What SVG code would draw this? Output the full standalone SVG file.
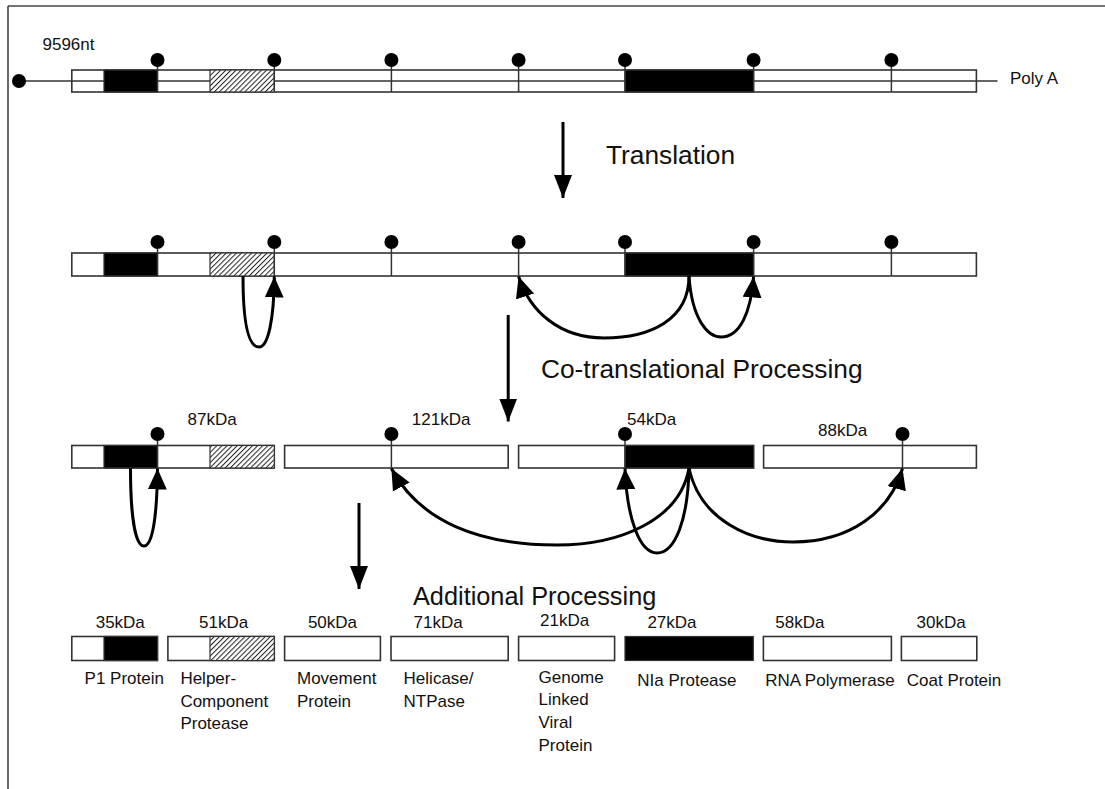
<svg xmlns="http://www.w3.org/2000/svg" width="1105" height="789" viewBox="0 0 1105 789">
<defs>
<pattern id="hatch" patternUnits="userSpaceOnUse" width="3.6" height="3.6" patternTransform="rotate(45)">
<rect width="3.6" height="3.6" fill="#fff"/>
<line x1="0.5" y1="0" x2="0.5" y2="3.6" stroke="#222" stroke-width="1"/>
</pattern>
<marker id="ah" markerUnits="userSpaceOnUse" markerWidth="22" markerHeight="20" refX="21" refY="9.5" orient="auto">
<path d="M0,0 L21,9.5 L0,19 z" fill="#000"/>
</marker>
<marker id="ahs" markerUnits="userSpaceOnUse" markerWidth="24" markerHeight="20" refX="23" refY="9" orient="auto">
<path d="M0,0 L23,9 L0,18 z" fill="#000"/>
</marker>
</defs>
<style>
.box{fill:#fff;stroke:#333;stroke-width:1.6}
.blk{fill:#000;stroke:#333;stroke-width:1.2}
.hat{fill:url(#hatch);stroke:#333;stroke-width:1.2}
.ln{stroke:#333;stroke-width:1.5;fill:none}
.dot{fill:#000}
.t{font-family:"Liberation Sans",Arial,sans-serif;font-size:17px;fill:#111}
.big{font-family:"Liberation Sans",Arial,sans-serif;font-size:26.3px;fill:#111}
.arc{fill:none;stroke:#000;stroke-width:3;marker-end:url(#ah)}
.dn{fill:none;stroke:#000;stroke-width:3;marker-end:url(#ahs)}
</style>
<rect width="1105" height="789" fill="#fff"/>
<g id="frame">
<line x1="8" y1="6" x2="1105" y2="6" stroke="#444" stroke-width="1.6"/>
<line x1="8" y1="6" x2="8" y2="789" stroke="#444" stroke-width="1.6"/>
</g>

<g id="rna">
<text class="t" x="42.5" y="50">9596nt</text>
<line class="ln" x1="19" y1="81" x2="997.5" y2="81"/>
<circle class="dot" cx="19" cy="81" r="7"/>
<rect class="box" x="71.8" y="70" width="904.6" height="22" style="fill:none"/>
<rect class="blk" x="104" y="70" width="53.5" height="22"/>
<rect class="hat" x="210" y="70" width="64.3" height="22"/>
<rect class="blk" x="625" y="70" width="128.6" height="22"/>
<g class="ln">
<line x1="157.5" y1="60" x2="157.5" y2="92"/>
<line x1="274.3" y1="60" x2="274.3" y2="92"/>
<line x1="391.4" y1="60" x2="391.4" y2="92"/>
<line x1="518.6" y1="60" x2="518.6" y2="92"/>
<line x1="625" y1="60" x2="625" y2="92"/>
<line x1="753.6" y1="60" x2="753.6" y2="92"/>
<line x1="891.4" y1="60" x2="891.4" y2="92"/>
</g>
<g class="dot">
<circle cx="157.5" cy="60" r="7"/><circle cx="274.3" cy="60" r="7"/><circle cx="391.4" cy="60" r="7"/><circle cx="518.6" cy="60" r="7"/><circle cx="625" cy="60" r="7"/><circle cx="753.6" cy="60" r="7"/><circle cx="891.4" cy="60" r="7"/>
</g>
<text class="t" x="1010" y="83.5">Poly A</text>
</g>

<g id="polyprotein">
<rect class="box" x="71.8" y="253" width="904.6" height="23"/>
<rect class="blk" x="104" y="253" width="53.5" height="23"/>
<rect class="hat" x="210" y="253" width="64.3" height="23"/>
<rect class="blk" x="625" y="253" width="128.6" height="23"/>
<g class="ln">
<line x1="157.5" y1="242" x2="157.5" y2="276"/>
<line x1="274.3" y1="242" x2="274.3" y2="276"/>
<line x1="391.4" y1="242" x2="391.4" y2="276"/>
<line x1="518.6" y1="242" x2="518.6" y2="276"/>
<line x1="625" y1="242" x2="625" y2="276"/>
<line x1="753.6" y1="242" x2="753.6" y2="276"/>
<line x1="891.4" y1="242" x2="891.4" y2="276"/>
</g>
<g class="dot">
<circle cx="157.5" cy="242" r="7"/><circle cx="274.3" cy="242" r="7"/><circle cx="391.4" cy="242" r="7"/><circle cx="518.6" cy="242" r="7"/><circle cx="625" cy="242" r="7"/><circle cx="753.6" cy="242" r="7"/><circle cx="891.4" cy="242" r="7"/>
</g>
</g>

<g id="p87">
<rect class="box" x="71.8" y="445.5" width="202.5" height="22.5"/>
<rect class="blk" x="104" y="445.5" width="53.5" height="22.5"/>
<rect class="hat" x="210" y="445.5" width="64.3" height="22.5"/>
<line class="ln" x1="157.5" y1="434" x2="157.5" y2="468"/>
<circle class="dot" cx="157.5" cy="434" r="7"/>
<text class="t" x="187.5" y="424.5">87kDa</text>
</g>
<g id="p121">
<rect class="box" x="284.6" y="445.5" width="223.6" height="22.5"/>
<line class="ln" x1="391.4" y1="434" x2="391.4" y2="468"/>
<circle class="dot" cx="391.4" cy="434" r="7"/>
<text class="t" x="411.8" y="424.5">121kDa</text>
</g>
<g id="p54">
<rect class="box" x="518.6" y="445.5" width="235" height="22.5"/>
<rect class="blk" x="625" y="445.5" width="128.6" height="22.5"/>
<line class="ln" x1="625" y1="434" x2="625" y2="468"/>
<circle class="dot" cx="625" cy="434" r="7"/>
<text class="t" x="627" y="424.5">54kDa</text>
</g>
<g id="p88">
<rect class="box" x="763.6" y="445.5" width="212.8" height="22.5"/>
<line class="ln" x1="902.5" y1="434" x2="902.5" y2="468"/>
<circle class="dot" cx="902.5" cy="434" r="7"/>
<text class="t" x="818" y="435.5">88kDa</text>
</g>

<g id="p1">
<rect class="box" x="71.8" y="636.5" width="85.7" height="24"/>
<rect class="blk" x="104" y="636.5" width="53.5" height="24"/>
<text class="t" x="95.7" y="627.5">35kDa</text>
<text class="t" x="84.6" y="684">P1 Protein</text>
</g>
<g id="hcpro">
<rect class="box" x="167.9" y="636.5" width="106.4" height="24"/>
<rect class="hat" x="210" y="636.5" width="64.3" height="24"/>
<text class="t" x="199" y="627.5">51kDa</text>
<text class="t" x="180.4" y="684">Helper-</text>
<text class="t" x="180.4" y="706.5">Component</text>
<text class="t" x="180.4" y="729">Protease</text>
</g>
<g id="mp">
<rect class="box" x="284.6" y="636.5" width="95.8" height="24"/>
<text class="t" x="307.9" y="627.5">50kDa</text>
<text class="t" x="297" y="684">Movement</text>
<text class="t" x="297" y="706.5">Protein</text>
</g>
<g id="hel">
<rect class="box" x="391" y="636.5" width="117.2" height="24"/>
<text class="t" x="413.6" y="627.5">71kDa</text>
<text class="t" x="403.6" y="684">Helicase/</text>
<text class="t" x="403.6" y="706.5">NTPase</text>
</g>
<g id="vpg">
<rect class="box" x="518.6" y="636.5" width="96" height="24"/>
<text class="t" x="540" y="625.5">21kDa</text>
<text class="t" x="538.5" y="682.5">Genome</text>
<text class="t" x="538.5" y="705">Linked</text>
<text class="t" x="538.5" y="728">Viral</text>
<text class="t" x="538.5" y="751">Protein</text>
</g>
<g id="nia">
<rect class="blk" x="625" y="636.5" width="128.3" height="24"/>
<text class="t" x="647.4" y="627.8">27kDa</text>
<text class="t" x="637.3" y="685.5">NIa Protease</text>
</g>
<g id="nib">
<rect class="box" x="763.4" y="636.5" width="128" height="24"/>
<text class="t" x="775.3" y="627.8">58kDa</text>
<text class="t" x="765.2" y="685.5">RNA Polymerase</text>
</g>
<g id="cp">
<rect class="box" x="901.4" y="636.5" width="75.4" height="24"/>
<text class="t" x="916.6" y="627.8">30kDa</text>
<text class="t" x="906.8" y="685.5">Coat Protein</text>
</g>

<g id="steps">
<text class="big" x="606" y="164">Translation</text>
<text class="big" x="541" y="378">Co-translational Processing</text>
<text class="big" x="413" y="605" style="font-size:25.3px">Additional Processing</text>
</g>

<g id="connectors">
<path class="dn" d="M563,122 L563,198"/>
<path class="dn" d="M508.2,315 L508.2,421.5"/>
<path class="dn" d="M359,503 L359,589"/>
<path class="arc" d="M243,276 C243,330 250,347 259,347 C268,347 274,320 274.3,276.5"/>
<path class="arc" d="M689,276 C689,320 650,338 604,338 C560,338 530,312 518.6,276.5"/>
<path class="arc" d="M689,276 C692,320 708,337 721,337 C740,337 751,312 753.6,276.5"/>
<path class="arc" d="M130.5,468 C130.5,520 136,546 144,546 C152,546 157,520 157.5,468.5"/>
<path class="arc" d="M689,468 C680,520 620,545 557,545 C480,545 420,522 391.4,468.5"/>
<path class="arc" d="M689,468 C688,520 675,553 657,553 C640,553 627,520 625,468.5"/>
<path class="arc" d="M689,468 C700,520 750,542 793,542 C850,542 890,512 902.5,468.5"/>
</g>
</svg>
